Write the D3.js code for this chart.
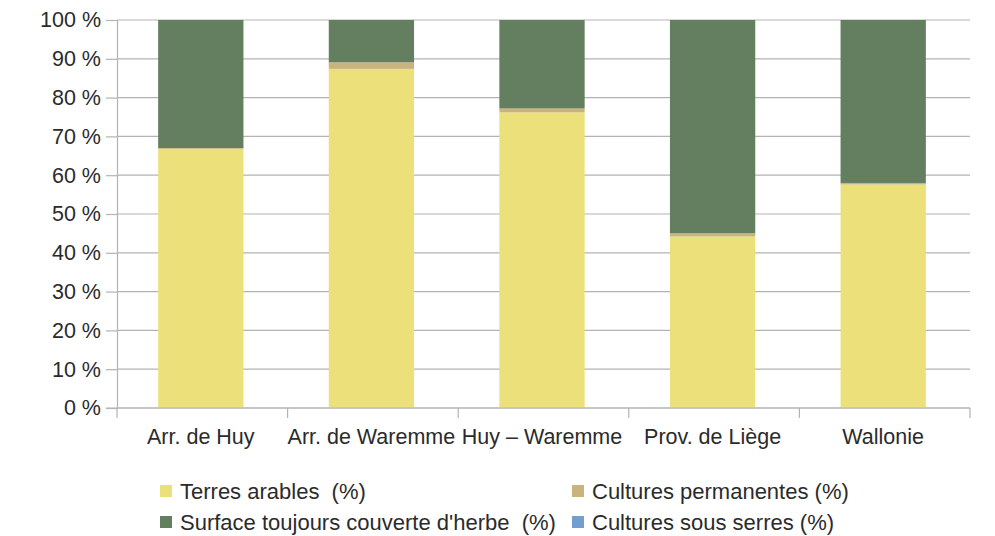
<!DOCTYPE html>
<html>
<head>
<meta charset="utf-8">
<script src="https://cdn.jsdelivr.net/npm/d3@7"></script>
<style>
  html, body { margin: 0; padding: 0; background: #fff; }
  svg { display: block; font-family: "Liberation Sans", Arial, sans-serif; }
</style>
</head>
<body>
<svg id="chart" width="995" height="536"></svg>
<script>
// Land use shares by area (%)
const categories = ["Arr. de Huy", "Arr. de Waremme", "Huy – Waremme", "Prov. de Liège", "Wallonie"];
const seriesNames = ["Terres arables  (%)", "Cultures permanentes (%)", "Surface toujours couverte d'herbe  (%)", "Cultures sous serres (%)"];
const terresArables = [66.8, 87.4, 76.2, 44.2, 57.6];
const culturesPermanentes = [0.2, 1.7, 1.0, 0.9, 0.4];
const surfaceHerbe = [33.0, 10.9, 22.8, 54.9, 42.0];
const culturesSerres = [0.0, 0.0, 0.0, 0.0, 0.0];
const yTicks = [0, 10, 20, 30, 40, 50, 60, 70, 80, 90, 100];

const colors = ["#ebe07a", "#c8b47c", "#637f60", "#729fcf"];
const seriesValues = [terresArables, culturesPermanentes, surfaceHerbe, culturesSerres];

const svg = d3.select("#chart");
const margin = { left: 117, right: 25, top: 20, bottom: 128 };
const W = 995, H = 536;
const plotW = W - margin.left - margin.right;
const plotH = H - margin.top - margin.bottom;

const rows = categories.map((c, i) => {
  const r = { category: c };
  seriesNames.forEach((s, k) => { r[s] = seriesValues[k][i]; });
  return r;
});

// Normalise each column to 100 % like a percent-stacked bar chart
const normRows = rows.map(r => {
  const tot = d3.sum(seriesNames, s => r[s]);
  const o = { category: r.category };
  seriesNames.forEach(s => { o[s] = r[s] / tot * 100; });
  return o;
});
const stacked = d3.stack().keys(seriesNames)(normRows);

const x = d3.scaleBand().domain(categories).range([0, plotW]).paddingInner(0.5).paddingOuter(0.25);
const y = d3.scaleLinear().domain([0, 100]).range([plotH, 0]);

const g = svg.append("g").attr("transform", `translate(${margin.left},${margin.top})`);

// horizontal gridlines
g.append("g").selectAll("line").data(yTicks).join("line")
  .attr("x1", 0).attr("x2", plotW)
  .attr("y1", d => y(d)).attr("y2", d => y(d))
  .attr("stroke", "#b3b3b3").attr("stroke-width", 1.2);

// stacked bars
g.append("g").attr("transform", "translate(-1.5,0)")
  .selectAll("g").data(stacked).join("g")
  .attr("fill", (d, i) => colors[i])
  .selectAll("rect").data(d => d).join("rect")
  .attr("x", d => x(d.data.category))
  .attr("width", x.bandwidth())
  .attr("y", d => y(d[1]))
  .attr("height", d => Math.max(0, y(d[0]) - y(d[1])));

// y axis
const yAxis = d3.axisLeft(y).tickValues(yTicks).tickSize(11).tickPadding(5)
  .tickFormat(d => d + " %");
const ya = g.append("g").call(yAxis);
ya.select(".domain").attr("stroke", "#b3b3b3").attr("stroke-width", 1.2);
ya.selectAll(".tick line").attr("stroke", "#b3b3b3").attr("stroke-width", 1.2);
ya.selectAll("text").attr("font-size", 21.5).attr("fill", "#2b2b2b")
  .attr("font-family", "Liberation Sans, Arial, sans-serif");

// x axis with ticks on band boundaries
const xa = g.append("g").attr("transform", `translate(0,${plotH})`);
xa.append("line").attr("x1", -11).attr("x2", plotW).attr("y1", 0).attr("y2", 0)
  .attr("stroke", "#b3b3b3").attr("stroke-width", 1.2);
const bounds = d3.range(categories.length + 1).map(i => i * plotW / categories.length);
xa.selectAll("line.b").data(bounds).join("line").attr("class", "b")
  .attr("x1", d => d).attr("x2", d => d).attr("y1", 0).attr("y2", 10)
  .attr("stroke", "#b3b3b3").attr("stroke-width", 1.2);
xa.selectAll("text").data(categories).join("text")
  .attr("x", d => x(d) + x.bandwidth() / 2 - 1.5)
  .attr("y", 36)
  .attr("text-anchor", "middle")
  .attr("font-size", 21.5).attr("fill", "#2b2b2b")
  .text(d => d);

// legend
const legendPos = [[160, 491], [572, 491], [160, 522], [572, 522]];
const lg = svg.append("g");
seriesNames.forEach((s, i) => {
  const [lx, ly] = legendPos[i];
  lg.append("rect").attr("x", lx).attr("y", ly - 6).attr("width", 12).attr("height", 12).attr("fill", colors[i]);
  lg.append("text").attr("x", lx + 20).attr("y", ly).attr("dy", "0.36em")
    .attr("font-size", 22).attr("fill", "#2b2b2b")
    .style("white-space", "pre")
    .text(s);
});
</script>
</body>
</html>
